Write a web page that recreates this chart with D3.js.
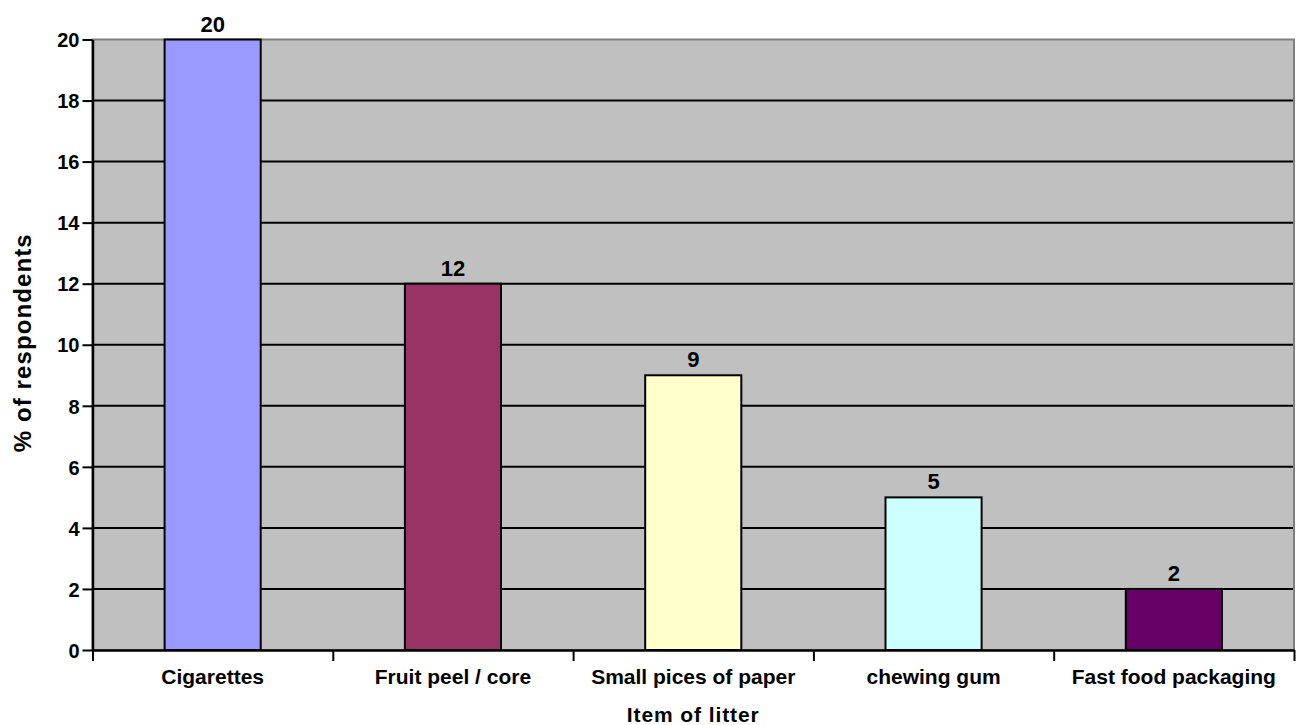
<!DOCTYPE html>
<html>
<head>
<meta charset="utf-8">
<script src="https://cdn.jsdelivr.net/npm/d3@7"></script>
<style>
  html, body { margin: 0; padding: 0; background: #fff; }
  svg text { font-family: "Liberation Sans", Arial, sans-serif; font-weight: bold; fill: #000; }
</style>
</head>
<body>
<svg id="chart" width="1297" height="725"></svg>
<script>
// Survey results: items of litter people reported dropping
const categories = ["Cigarettes", "Fruit peel / core", "Small pices of paper", "chewing gum", "Fast food packaging"];
const percents = [20, 12, 9, 5, 2];
const barColors = ["#9999FF", "#993366", "#FFFFCC", "#CCFFFF", "#660066"];
const yTicks = [0, 2, 4, 6, 8, 10, 12, 14, 16, 18, 20];

const svg = d3.select("#chart");
const plot = { left: 92.5, right: 1294, top: 39.5, bottom: 650 };

const x = d3.scaleBand()
  .domain(categories)
  .range([plot.left, plot.right])
  .paddingInner(0.6)
  .paddingOuter(0.3);

// category boundaries for the tick marks under the axis
const xEdges = d3.scaleLinear().domain([0, categories.length]).range([plot.left, plot.right]);

const y = d3.scaleLinear().domain([0, 20]).range([plot.bottom, plot.top]);

// plot background and frame
svg.append("rect")
  .attr("x", plot.left).attr("y", plot.top)
  .attr("width", plot.right - plot.left).attr("height", plot.bottom - plot.top)
  .attr("fill", "#C0C0C0")
  .attr("stroke", "#808080").attr("stroke-width", 2);

// horizontal gridlines
svg.append("g")
  .selectAll("line")
  .data(yTicks.filter(d => d > 0 && d < 20))
  .join("line")
  .attr("x1", plot.left).attr("x2", plot.right - 1)
  .attr("y1", d => y(d)).attr("y2", d => y(d))
  .attr("stroke", "#000").attr("stroke-width", 2);

// bars
svg.append("g")
  .selectAll("rect")
  .data(categories)
  .join("rect")
  .attr("x", d => x(d))
  .attr("y", (d, i) => y(percents[i]))
  .attr("width", x.bandwidth())
  .attr("height", (d, i) => y(0) - y(percents[i]))
  .attr("fill", (d, i) => barColors[i])
  .attr("stroke", "#000").attr("stroke-width", 2);

// value labels above bars
svg.append("g")
  .selectAll("text")
  .data(categories)
  .join("text")
  .attr("x", d => x(d) + x.bandwidth() / 2)
  .attr("y", (d, i) => y(percents[i]) - 8)
  .attr("text-anchor", "middle")
  .style("font-size", "22px")
  .text((d, i) => percents[i]);

// y axis
const yAxis = svg.append("g")
  .attr("transform", `translate(${plot.left},0)`)
  .call(d3.axisLeft(y).tickValues(yTicks).tickSize(10).tickPadding(3).tickSizeOuter(0));
yAxis.select(".domain").attr("stroke", "#000").attr("stroke-width", 2.5);
yAxis.selectAll(".tick line").attr("stroke", "#000").attr("stroke-width", 2);
yAxis.selectAll(".tick text")
  .style("font-size", "20px")
  .style("font-family", "'Liberation Sans', Arial, sans-serif")
  .style("font-weight", "bold")
  .attr("dy", "0.36em");

// x axis line and boundary ticks
const xAxis = svg.append("g")
  .attr("transform", `translate(0,${plot.bottom})`)
  .call(d3.axisBottom(xEdges).tickValues(d3.range(categories.length + 1)).tickFormat("").tickSize(11).tickSizeOuter(0));
xAxis.select(".domain").attr("stroke", "#000").attr("stroke-width", 2.5);
xAxis.selectAll(".tick line").attr("stroke", "#000").attr("stroke-width", 2);

// category labels
svg.append("g")
  .selectAll("text")
  .data(categories)
  .join("text")
  .attr("x", d => x(d) + x.bandwidth() / 2)
  .attr("y", 684)
  .attr("text-anchor", "middle")
  .style("font-size", "21px")
  .text(d => d);

// axis titles
svg.append("text")
  .attr("x", (plot.left + plot.right) / 2)
  .attr("y", 722)
  .attr("text-anchor", "middle")
  .style("font-size", "21px")
  .style("letter-spacing", "0.9px")
  .text("Item of litter");

svg.append("text")
  .attr("transform", `translate(31,${(plot.top + plot.bottom) / 2 - 2}) rotate(-90)`)
  .attr("text-anchor", "middle")
  .style("font-size", "24px")
  .style("letter-spacing", "1.1px")
  .text("% of respondents");
</script>
</body>
</html>
